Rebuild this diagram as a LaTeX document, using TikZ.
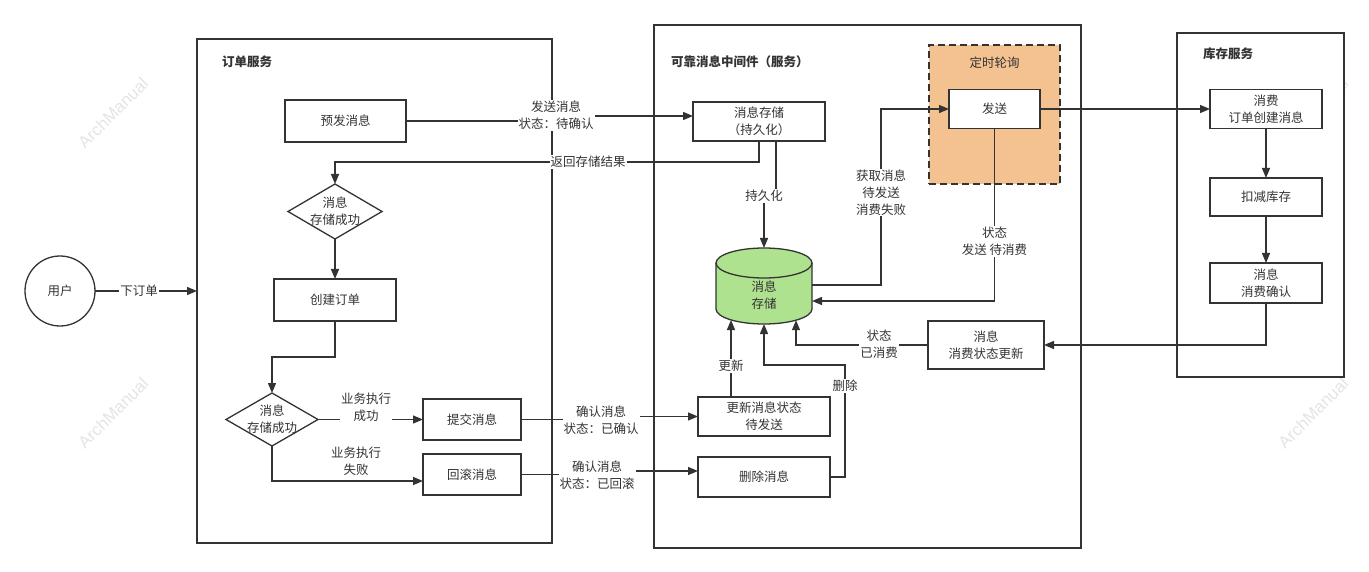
\documentclass[tikz,border=0pt]{standalone}
\usepackage{fontspec}
\setmainfont{Liberation Sans}
\newfontfamily\cjk{Noto Sans CJK SC}
\usetikzlibrary{arrows.meta,shapes.geometric,calc}
\definecolor{ln}{HTML}{333333}
\definecolor{wm}{HTML}{E4E4E4}
\definecolor{orangef}{HTML}{F4C190}
\definecolor{greenf}{HTML}{AEE28F}
\begin{document}
\begin{tikzpicture}[x=1pt,y=-1pt,
  font=\cjk\fontsize{12.5}{17}\selectfont,
  every node/.style={text=ln, inner sep=0pt, outer sep=0pt},
  box/.style={draw=ln, line width=1.3pt, fill=white, align=center},
  cont/.style={draw=ln, line width=1.3pt, fill=white},
  lab/.style={fill=white, align=center, inner sep=1pt},
  arr/.style={draw=ln, line width=1.3pt, -{Triangle[length=10pt,width=8pt]}},
  plain/.style={draw=ln, line width=1.3pt},
  ttl/.style={font=\cjk\fontsize{12.5}{17}\selectfont\bfseries, anchor=west},
  wmark/.style={text=wm, font=\fontsize{17}{20}\selectfont, rotate=45},
]
\useasboundingbox (0,0) rectangle (1369,572);

% watermarks
\node[wmark] (w1) at (113,113) {ArchManual};
\node[wmark] (w2) at (113,413) {ArchManual};
\node[wmark] (w3) at (1313,413) {ArchManual};
\node[wmark] (w4) at (1313,113) {ArchManual};

% containers
\node[cont, minimum width=355pt, minimum height=504pt] (ordc) at (374.5,291) {};
\node[cont, minimum width=427pt, minimum height=523pt] (midc) at (867.5,286.5) {};
\node[cont, minimum width=167pt, minimum height=344pt] (invc) at (1260.5,205) {};
\node[ttl] (t1) at (222,62) {订单服务};
\node[ttl] (t2) at (671,62) {可靠消息中间件（服务）};
\node[ttl] (t3) at (1203,54) {库存服务};

% polling box
\node[draw=ln, line width=1.3pt, dash pattern=on 7pt off 4pt, fill=orangef,
      minimum width=131pt, minimum height=139pt] (poll) at (994.5,114.5) {};
\node (pollt) at (994.5,63) {定时轮询};

% user
\node[draw=ln, line width=1.3pt, circle, minimum size=70pt] (user) at (60,291) {用户};

% order service
\node[box, minimum width=121pt, minimum height=42pt] (pre) at (345.5,121) {预发消息};
\node[draw=ln, line width=1.3pt, fill=white, diamond, minimum width=94pt, minimum height=55pt] (d1) at (335,211.5) {};
\node[align=center] (d1t) at (335,211.5) {消息\\存储成功};
\node[box, minimum width=122pt, minimum height=42pt] (create) at (335,300) {创建订单};
\node[draw=ln, line width=1.3pt, fill=white, diamond, minimum width=92pt, minimum height=53pt] (d2) at (272,419.5) {};
\node[align=center] (d2t) at (272,419.5) {消息\\存储成功};
\node[box, minimum width=98pt, minimum height=41pt] (commit) at (472,419.5) {提交消息};
\node[box, minimum width=98pt, minimum height=41pt] (rollback) at (472,474.5) {回滚消息};

% middleware
\node[box, minimum width=132pt, minimum height=39pt] (store) at (759,121.5) {消息存储\\（持久化）};
\node[box, minimum width=91pt, minimum height=39pt] (send) at (994.5,109) {发送};
\node[box, minimum width=116pt, minimum height=48pt] (upd) at (986,345) {消息\\消费状态更新};
\node[box, minimum width=132pt, minimum height=39pt] (updst) at (764,416.5) {更新消息状态\\待发送};
\node[box, minimum width=132pt, minimum height=40pt] (del) at (764,477) {删除消息};

% database cylinder
\path[draw=ln, fill=greenf, line width=1.3pt]
  (716,263) -- (716,309) arc[start angle=180, end angle=360, x radius=48pt, y radius=15pt]
  -- (812,263) arc[start angle=0, end angle=180, x radius=48pt, y radius=15pt] -- cycle;
\draw[ln, line width=1.3pt] (716,263) arc[start angle=180, end angle=360, x radius=48pt, y radius=15pt];
\node[minimum width=96pt, minimum height=76pt] (db) at (764,286) {};
\node[align=center] (dbt) at (764,295.5) {消息\\存储};

% inventory
\node[box, minimum width=112pt, minimum height=39pt] (cons) at (1266,109) {消费\\订单创建消息};
\node[box, minimum width=112pt, minimum height=38pt] (dec) at (1266,197) {扣减库存};
\node[box, minimum width=112pt, minimum height=40pt] (conf) at (1266,283) {消息\\消费确认};

% connectors
\draw[arr] (user.east) -- (ordc.west |- user.east);
\draw[arr] (pre.east) -- (556,121) -- (556,116) -- (store.west |- 0,116);
\draw[arr] (store.south) -- (759,162) -- (335,162) -- (d1.north);
\draw[arr] (d1.south) -- (create.north);
\draw[arr] (create.south) -- (335,357) -- (272,357) -- (d2.north);
\draw[arr] (d2.east) -- (commit.west);
\draw[arr] (d2.south) -- (272,481) -- (rollback.west |- 0,481);
\draw[arr] (commit.east) -- (601,419.5) -- (601,416.5) -- (updst.west);
\draw[arr] (rollback.east) -- (597,474.5) -- (597,471) -- (del.west |- 0,471);
\draw[arr] (776,141) -- (776,196) -- (764,196) -- (db.north);
\draw[arr] (db.east |- 0,285) -- (881,285) -- (881,109) -- (send.west);
\draw[arr] (send.south) -- (994.5,301) -- (db.east |- 0,301);
\draw[arr] (send.east) -- (cons.west);
\draw[arr] (cons.south) -- (dec.north);
\draw[arr] (dec.south) -- (conf.north);
\draw[arr] (conf.south) |- (upd.east);
\draw[arr] (upd.west) -- (796,345) -- (796,320.2);
\draw[arr] (updst.north -| 731,0) -- (731,320);
\draw[arr] (del.east) -- (845,477) -- (845,365) -- (764,365) -- (db.south);

% labels
\node[lab] (l1) at (139,291) {下订单};
\node[lab] (l2) at (556,115.5) {发送消息\\状态：待确认};
\node[lab] (l3) at (588,162) {返回存储结果};
\node[lab] (l4) at (366,407) {业务执行\\成功};
\node[lab] (l5) at (356,461.5) {业务执行\\失败};
\node[lab] (l6) at (601,420) {确认消息\\状态：已确认};
\node[lab] (l7) at (597,475) {确认消息\\状态：已回滚};
\node[lab] (l8) at (764,196) {持久化};
\node[lab] (l9) at (881,192.5) {获取消息\\待发送\\消费失败};
\node[lab] (l10) at (994.5,241.5) {状态\\发送 待消费};
\node[lab] (l11) at (879,344.5) {状态\\已消费};
\node[lab] (l12) at (731,366) {更新};
\node[lab] (l13) at (845,386) {删除};
\end{tikzpicture}
\end{document}
